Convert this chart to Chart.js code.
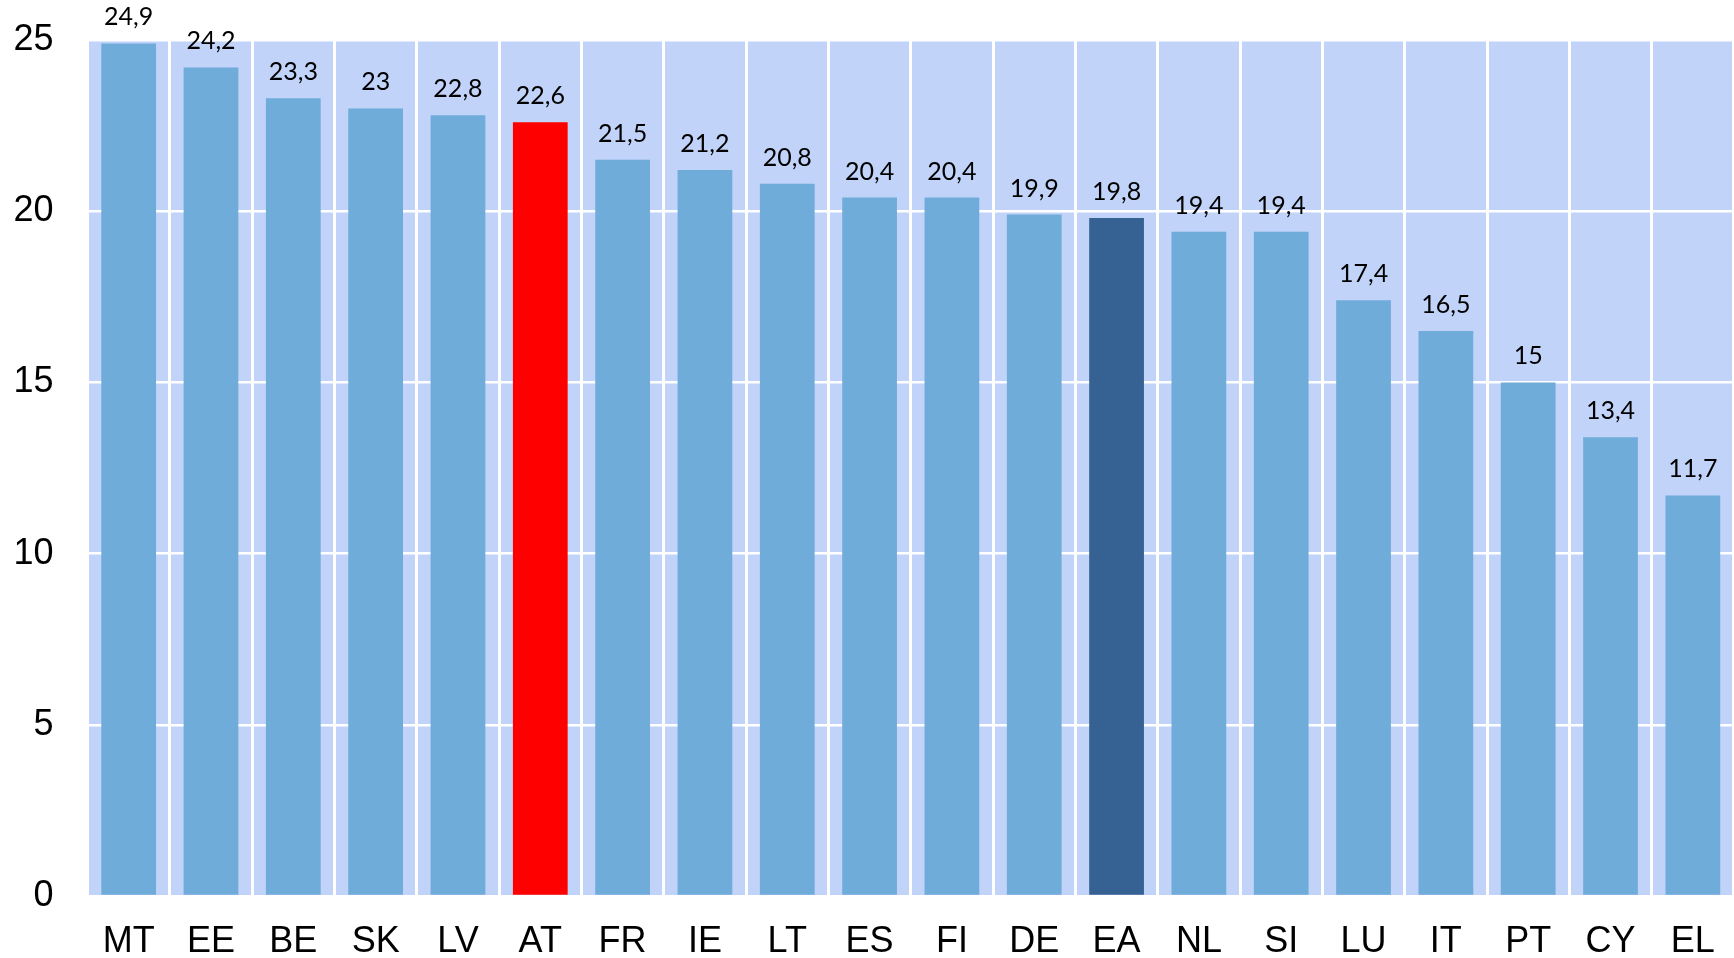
<!DOCTYPE html>
<html>
<head>
<meta charset="utf-8">
<script src="https://cdn.jsdelivr.net/npm/chart.js@4/dist/chart.umd.min.js"></script>
<style>
  html, body { margin: 0; padding: 0; background: #ffffff; }
  #wrap { width: 1734px; height: 958px; position: relative; }
</style>
</head>
<body>
<div id="wrap"><canvas id="c" width="1734" height="958"></canvas></div>
<script>
const categories = ["MT","EE","BE","SK","LV","AT","FR","IE","LT","ES","FI","DE","EA","NL","SI","LU","IT","PT","CY","EL"];
const values = [24.9,24.2,23.3,23,22.8,22.6,21.5,21.2,20.8,20.4,20.4,19.9,19.8,19.4,19.4,17.4,16.5,15,13.4,11.7];
const yTicks = [0,5,10,15,20,25];

const BAR = "#70ACDA";
const HIGHLIGHT_AT = "#FF0000";
const HIGHLIGHT_EA = "#356193";
const PLOT_BG = "#C1D3F8";

const barColors = categories.map(c => c === "AT" ? HIGHLIGHT_AT : (c === "EA" ? HIGHLIGHT_EA : BAR));

const bgPlugin = {
  id: "plotBg",
  beforeDraw(chart) {
    const a = chart.chartArea, ctx = chart.ctx;
    ctx.save();
    ctx.fillStyle = PLOT_BG;
    ctx.fillRect(a.left, a.top, a.right - a.left, a.bottom - a.top);
    ctx.restore();
  }
};

const labelPlugin = {
  id: "valueLabels",
  afterDatasetsDraw(chart) {
    const ctx = chart.ctx;
    const meta = chart.getDatasetMeta(0);
    ctx.save();
    ctx.font = "25px Lato, 'Open Sans', sans-serif";
    ctx.fillStyle = "#000000";
    ctx.textAlign = "center";
    ctx.textBaseline = "alphabetic";
    meta.data.forEach((bar, i) => {
      const txt = String(values[i]).replace(".", ",");
      ctx.fillText(txt, bar.x, bar.y - 18);
    });
    ctx.restore();
  }
};

new Chart(document.getElementById("c"), {
  type: "bar",
  data: {
    labels: categories,
    datasets: [{
      data: values,
      backgroundColor: barColors,
      borderWidth: 0,
      barPercentage: 0.665,
      categoryPercentage: 1.0
    }]
  },
  options: {
    responsive: false,
    animation: false,
    devicePixelRatio: 1,
    layout: { padding: { top: 40, right: 0, bottom: 0, left: 0 } },
    plugins: {
      legend: { display: false },
      tooltip: { enabled: false },
      title: { display: false }
    },
    scales: {
      x: {
        offset: true,
        grid: { display: true, offset: true, color: "#FFFFFF", lineWidth: 3, drawTicks: false },
        border: { display: false },
        ticks: {
          color: "#000000",
          font: { family: "'Liberation Sans', Arial, sans-serif", size: 36 },
          padding: 24,
          maxRotation: 0,
          autoSkip: false
        },
        afterFit(scale) {
          scale.height = 62;
          scale.paddingLeft = 0;
          scale.paddingRight = 0;
        }
      },
      y: {
        min: 0,
        max: 25,
        afterBuildTicks(scale) { scale.ticks = yTicks.map(v => ({ value: v })); },
        grid: { display: true, color: "#FFFFFF", lineWidth: 2.5, drawTicks: false },
        border: { display: false },
        ticks: {
          color: "#000000",
          font: { family: "'Liberation Sans', Arial, sans-serif", size: 36 },
          padding: 34
        },
        afterFit(scale) {
          scale.width = 87.5;
          scale.paddingTop = 0;
          scale.paddingBottom = 0;
        }
      }
    }
  },
  plugins: [bgPlugin, labelPlugin]
});
</script>
</body>
</html>
